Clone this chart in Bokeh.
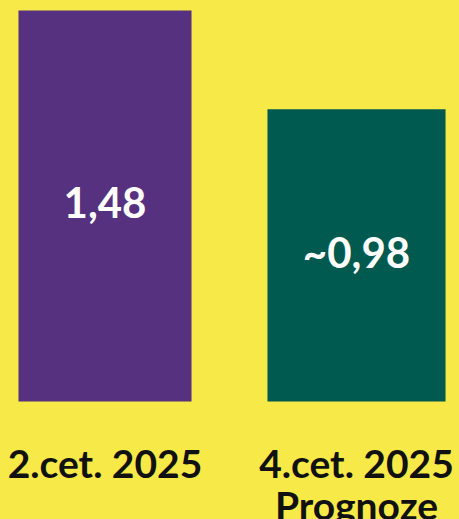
from bokeh.plotting import figure
from bokeh.models import Range1d, ColumnDataSource
from bokeh.core.properties import value
from bokeh.embed import file_html
from bokeh.resources import INLINE

# data
categories = ["2.cet. 2025", "4.cet. 2025"]
sublabels = ["", "Prognoze"]
values = [1.48, 0.98]
value_labels = ["1,48", "~0,98"]
baseline = -0.5

BG = "#F6E948"
colors = ["#55317F", "#005A4F"]
widths = [0.688, 0.708]
xpos = [0, 1]

src = ColumnDataSource(dict(
    x=xpos, top=values, bottom=[baseline] * len(values), w=widths, c=colors,
    mid=[(v + baseline) / 2 for v in values], vl=value_labels,
    cat=categories, sub=sublabels, base=[baseline] * len(values),
))

p = figure(width=459, height=519, output_backend="svg", toolbar_location=None,
           x_range=Range1d(-0.4155, 1.4095), y_range=Range1d(-1.0976, 1.5306),
           min_border=0, border_fill_color=BG, background_fill_color=BG)
p.outline_line_color = None
p.axis.visible = False
p.grid.visible = False

p.vbar(x="x", top="top", bottom="bottom", width="w", fill_color="c", line_color=None, source=src)

p.text(x="x", y="mid", text="vl", source=src, text_color="white",
       text_font=value("Lato"), text_font_style="bold", text_font_size="42px",
       text_align="center", text_baseline="middle", y_offset=-3)

p.text(x="x", y="base", text="cat", source=src, text_color="#111111",
       text_font=value("Lato"), text_font_style="bold", text_font_size="39px",
       text_align="center", text_baseline="alphabetic", y_offset=62)
p.text(x="x", y="base", text="sub", source=src, text_color="#111111",
       text_font=value("Lato"), text_font_style="bold", text_font_size="39px",
       text_align="center", text_baseline="alphabetic", y_offset=104)

html = file_html(p, INLINE)
html = html.replace("</head>", "<style>html,body{background:%s !important;margin:0 !important;padding:0 !important;overflow:hidden}</style></head>" % BG, 1)
open("out.html", "w").write(html)
